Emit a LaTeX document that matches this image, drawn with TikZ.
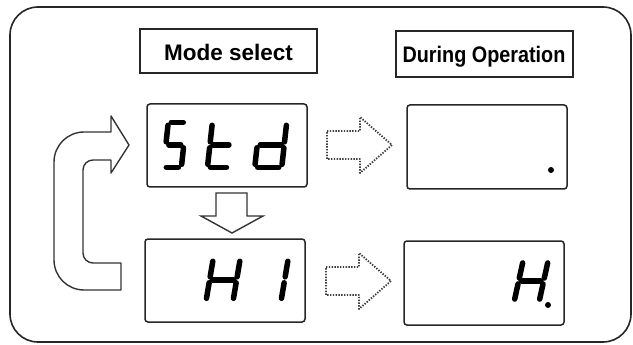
\documentclass[tikz,border=0pt]{standalone}
\usepackage{fontspec}
\setmainfont{Liberation Sans}
\tikzset{
  seg/.style={line width=5.5pt, line cap=round, shorten <=3pt, shorten >=3pt, black},
  frame/.style={line width=1.6pt, draw=black!85},
  labelbox/.style={draw=black!85, line width=1.5pt, rectangle},
  dispbox/.style={draw=black!85, line width=1.5pt, rounded corners=3pt},
  hollow/.style={draw=black!80, line width=1.4pt, line join=miter},
  dotarrow/.style={draw=black!75, line width=1.8pt, dash pattern=on 1.4pt off 1.4pt, line join=round},
  lbl/.style={font=\fontsize{22.5}{27}\selectfont\bfseries, inner sep=0pt, anchor=base}
}
\newcommand{\sevenseg}[6]{%
  \begin{scope}[shift={(#1,#2)}, xslant=#5]
    \coordinate (TL) at (0,0);
    \coordinate (TR) at (#3,0);
    \coordinate (ML) at (0,#4/2);
    \coordinate (MR) at (#3,#4/2);
    \coordinate (BL) at (0,#4);
    \coordinate (BR) at (#3,#4);
  \end{scope}
  \foreach \p/\q in {#6} {\draw[seg] (\p) -- (\q);}
}
\begin{document}
\begin{tikzpicture}[x=1pt, y=-1pt]
\useasboundingbox (0,0) rectangle (633,345);
% outer frame
\draw[frame, rounded corners=28pt] (10,7) rectangle (631,342);

% header boxes
\node[labelbox, minimum width=177pt, minimum height=44pt, inner sep=0pt] (msbox) at (228.5,51) {};
\node[lbl] (mstext) at (228.5,61) {Mode select};
\node[labelbox, minimum width=177pt, minimum height=46pt, inner sep=0pt] (dobox) at (484.5,54) {};
\node[lbl, xscale=0.88] (dotext) at (484,63) {During Operation};

% display boxes
\draw[dispbox] (147,104) rectangle (307,187);
\draw[dispbox] (407,105) rectangle (567,189);
\draw[dispbox] (145,239) rectangle (305,322);
\draw[dispbox] (404,241) rectangle (564,325);

% Std
\sevenseg{168.3}{122.3}{18}{45}{0.11}{TL/TR, TL/ML, ML/MR, MR/BR, BL/BR}
\sevenseg{212.4}{122.3}{22}{45}{0.11}{TL/ML, ML/BL, ML/MR, BL/BR}
\sevenseg{259.7}{122.3}{27}{45}{0.11}{TR/MR, MR/BR, ML/MR, ML/BL, BL/BR}
% H 1
\sevenseg{213.3}{258.3}{27}{43}{0.17}{TL/ML, ML/BL, TR/MR, MR/BR, ML/MR}
\sevenseg{261.3}{258.3}{27}{43}{0.17}{TR/MR, MR/BR}
% H.
\sevenseg{523.3}{260}{25}{42}{0.22}{TL/ML, ML/BL, TR/MR, MR/BR, ML/MR}
\fill (548,305) circle (3pt);
% dot in upper right display
\fill (551,170) circle (3pt);

% down hollow arrow
\draw[hollow] (216,193) -- (247,193) -- (247,216) -- (263,216) -- (232,233) -- (201,216) -- (216,216) -- cycle;

% dotted arrows
\draw[dotarrow] (327,131) -- (360,131) -- (360,117) -- (392,145) -- (360,173) -- (360,159) -- (327,159) -- cycle;
\draw[dotarrow] (326,267) -- (359,267) -- (359,253) -- (391,281) -- (359,309) -- (359,295) -- (326,295) -- cycle;

% curved return arrow
\draw[hollow, line join=round] (121,290) -- (84,290) arc (90:180:30) -- (54,162) arc (180:270:30)
  -- (111,132) -- (111,116) -- (129,145) -- (111,173) -- (111,160) -- (93,160)
  arc (270:180:10) -- (83,253) arc (180:90:10) -- (121,263) -- cycle;
\end{tikzpicture}
\end{document}
